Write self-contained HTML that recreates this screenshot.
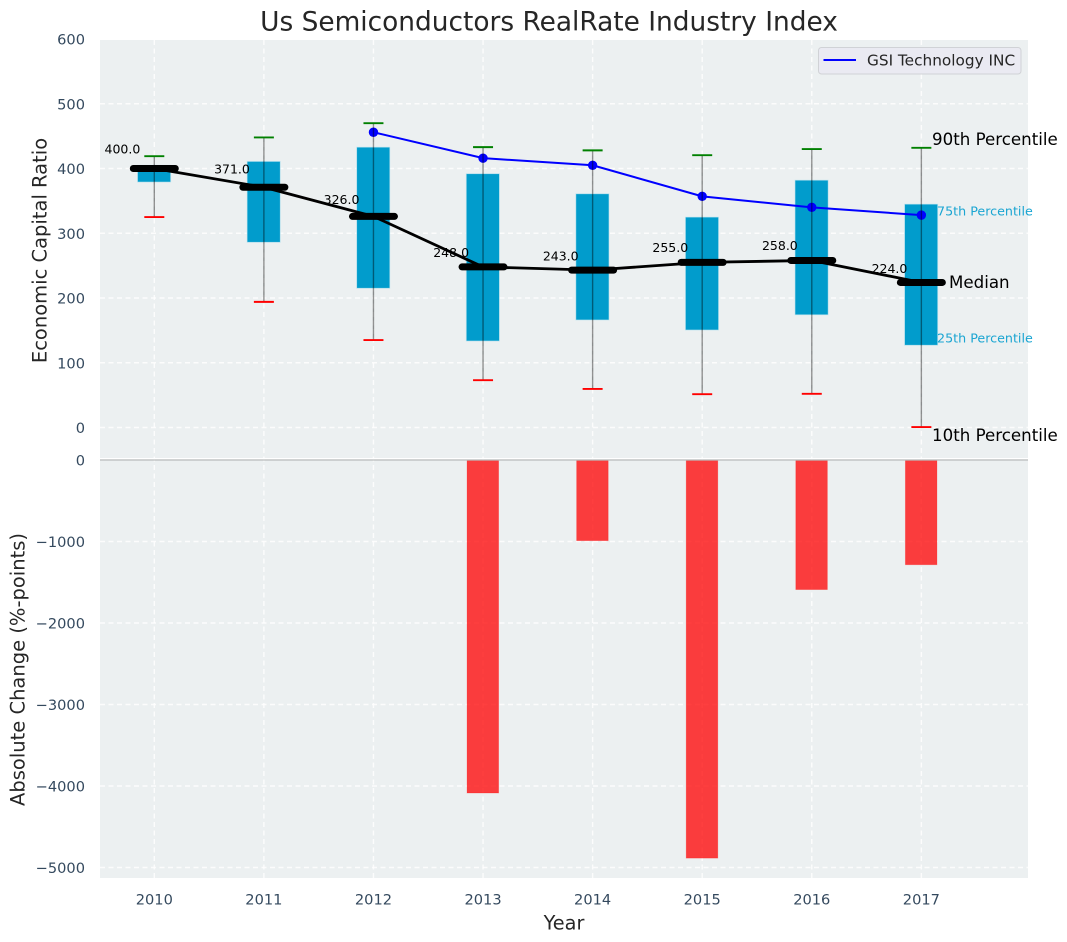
<!DOCTYPE html>
<html lang="en">
<head>
<meta charset="utf-8">
<title>Us Semiconductors RealRate Industry Index</title>
<style>
html,body{margin:0;padding:0;background:#fff;}
#chart{display:block;width:1067px;height:942px;font-family:"DejaVu Sans","Liberation Sans",sans-serif;}
</style>
</head>
<body>
<svg id="chart" xmlns="http://www.w3.org/2000/svg" width="1067" height="942" viewBox="0 0 1067 942"></svg>
<script>
const years = [2010, 2011, 2012, 2013, 2014, 2015, 2016, 2017];
const p90 = [419, 448, 470, 433, 428, 420.5, 430, 432];
const q3 = [405, 411, 433, 392, 361, 325, 382, 345];
const medians = [400, 371, 326, 248, 243, 255, 258, 224];
const q1 = [379, 286, 215, 133.5, 166, 150.5, 174, 127];
const p10 = [325, 194, 135, 73, 59.5, 51.5, 52, 0.7];
const gsiYears = [2012, 2013, 2014, 2015, 2016, 2017];
const gsiValues = [456, 416, 405, 357, 340, 328];
const changeYears = [2013, 2014, 2015, 2016, 2017];
const changeValues = [-4086, -990, -4885, -1590, -1285];
const topTicks = [0, 100, 200, 300, 400, 500, 600];
const bottomTicks = [0, -1000, -2000, -3000, -4000, -5000];

const svg = document.getElementById('chart');
const NS = 'http://www.w3.org/2000/svg';
const xScale = v => 154.3 + (v - 2010) * 109.58;
const yTop = v => 427.5 - v * 0.6475;
const yBottom = v => 460 + v * -0.0815;

function make(tag, attrs, parent) {
  const el = document.createElementNS(NS, tag);
  for (const k in attrs) el.setAttribute(k, attrs[k]);
  (parent || svg).appendChild(el);
  return el;
}
function label(str, x, y, size, fill, anchor, parent) {
  const el = make('text', {x: x, y: y, 'font-size': size, fill: fill, 'text-anchor': anchor || 'start', 'dominant-baseline': 'central'}, parent);
  el.textContent = str;
  return el;
}
const fmt = v => (v < 0 ? '\u2212' + Math.abs(v) : String(v));

// panel background
const panel = make('rect', {x: 100, y: 40, width: 928, height: 838, fill: '#ecf0f1'});



// grid
const dash = {stroke: '#ffffff', 'stroke-width': 1.4, 'stroke-dasharray': '5 3.5', opacity: 0.85};
topTicks.forEach(t => {
  const g = make('line', Object.assign({x1: 100, x2: 1028, y1: yTop(t), y2: yTop(t)}, dash));
  
  
});
bottomTicks.slice(1).forEach(t => {
  const g = make('line', Object.assign({x1: 100, x2: 1028, y1: yBottom(t), y2: yBottom(t)}, dash));
  
  
});
years.forEach(t => {
  const g = make('line', Object.assign({x1: xScale(t), x2: xScale(t), y1: 40, y2: 878}, dash));
  
  
});

// panel divider
const divider = make('line', {x1: 100, x2: 1028, y1: 458.6, y2: 458.6, stroke: '#ffffff', 'stroke-width': 1.2});



// boxes
years.forEach((y, i) => {
  const cx = xScale(y);
  const box = make('rect', {x: cx - 16.8, y: yTop(q3[i]), width: 33.2, height: yTop(q1[i]) - yTop(q3[i]), fill: '#019ccc', stroke: '#c4e6f0', 'stroke-opacity': 0.8, 'stroke-width': 0.8});
  
  
});

// median connecting line
const medianPath = make('polyline', {points: years.map((y, i) => xScale(y) + ',' + yTop(medians[i])).join(' '), fill: 'none', stroke: '#000000', 'stroke-width': 2.8, 'stroke-linejoin': 'round'});



// median bars and labels
years.forEach((y, i) => {
  const cx = xScale(y);
  const my = yTop(medians[i]);
  const m = make('line', {x1: cx - 21, x2: cx + 21, y1: my, y2: my, stroke: '#000000', 'stroke-width': 7, 'stroke-linecap': 'round'});
  
  
  const t = label(medians[i].toFixed(1), cx - 14, yTop(medians[i] * 1.05 + 10), 12.5, '#000000', 'end');
  
  
});

// GSI series
const gsiLine = make('polyline', {points: gsiYears.map((y, i) => xScale(y) + ',' + yTop(gsiValues[i])).join(' '), fill: 'none', stroke: '#0000ff', 'stroke-width': 2});


gsiYears.forEach((y, i) => {
  const c = make('circle', {cx: xScale(y), cy: yTop(gsiValues[i]), r: 4.7, fill: '#0000ff'});
  
  
});

// whiskers and caps
years.forEach((y, i) => {
  const cx = xScale(y);
  const w = make('line', {x1: cx, x2: cx, y1: yTop(p90[i]), y2: yTop(p10[i]), stroke: '#000000', 'stroke-opacity': 0.42, 'stroke-width': 1.4});
  
  
  const hi = make('line', {x1: cx - 10, x2: cx + 10, y1: yTop(p90[i]), y2: yTop(p90[i]), stroke: '#008000', 'stroke-width': 1.9});
  
  
  const lo = make('line', {x1: cx - 10, x2: cx + 10, y1: yTop(p10[i]), y2: yTop(p10[i]), stroke: '#ff0000', 'stroke-width': 1.9});
  
  
});

// change bars
changeYears.forEach((y, i) => {
  const top = yBottom(0);
  const b = yBottom(changeValues[i]);
  const bar = make('rect', {x: xScale(y) - 16, y: top, width: 31.6, height: b - top, fill: '#ff0000', 'fill-opacity': 0.75, stroke: '#ff0000', 'stroke-opacity': 0.25, 'stroke-width': 0.8});
  
  
});

// zero line
const zero = make('line', {x1: 100, x2: 1028, y1: 460, y2: 460, stroke: '#b9bbbc', 'stroke-width': 1.3});



// tick labels
topTicks.forEach(t => {
  const el = label(fmt(t), 85, yTop(t) + 1, 14.6, '#34495e', 'end');
  
  
});
bottomTicks.forEach(t => {
  const el = label(fmt(t), 85, yBottom(t) + 1, 14.6, '#34495e', 'end');
  
  
});
years.forEach(t => {
  const el = label(String(t), xScale(t), 900, 14.6, '#34495e', 'middle');
  
  
});

// percentile annotations
const a90 = label('90th Percentile', 932, 139.5, 16.67, '#000000');


const a75 = label('75th Percentile', 937, 211, 12.7, '#1aa5d2');


const aMed = label('Median', 949, 282.5, 16.67, '#000000');


const a25 = label('25th Percentile', 937, 338, 12.7, '#1aa5d2');


const a10 = label('10th Percentile', 932, 435.5, 16.67, '#000000');



// legend
const legendBox = make('rect', {x: 818.5, y: 47.5, width: 202.5, height: 26.5, rx: 3, fill: '#eaeaf2', stroke: '#d0d2d6', 'stroke-width': 1});


const legendLine = make('line', {x1: 823.5, x2: 856, y1: 60, y2: 60, stroke: '#0000ff', 'stroke-width': 2});


const legendText = label('GSI Technology INC', 867, 60.5, 15.3, '#262626');



// titles
const title = label('Us Semiconductors RealRate Industry Index', 549, 22, 26.4, '#262626', 'middle');


const xTitle = label('Year', 564, 923, 19.3, '#262626', 'middle');


const yTitleTop = label('Economic Capital Ratio', 0, 0, 19.5, '#262626', 'middle');
yTitleTop.setAttribute('transform', 'translate(40 250.5) rotate(-90)');


const yTitleBottom = label('Absolute Change (%-points)', 0, 0, 19.5, '#262626', 'middle');
yTitleBottom.setAttribute('transform', 'translate(18 669.5) rotate(-90)');


</script>
</body>
</html>
